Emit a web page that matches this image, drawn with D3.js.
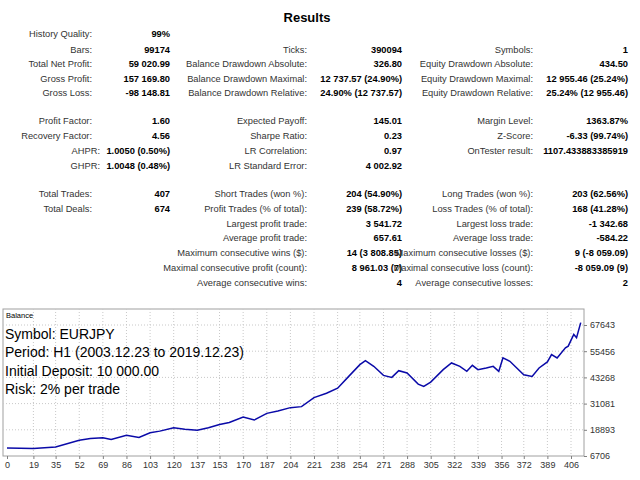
<!DOCTYPE html>
<html><head><meta charset="utf-8">
<script src="https://cdn.jsdelivr.net/npm/d3@7"></script>
<style>body{margin:0;background:#fff}</style>
</head><body>
<svg id="c" width="640" height="480"></svg>
<script>
// report rows: [label, value] per column, per row
var rowsCol1 = [
	['History Quality:', '99%'], ['Bars:', '99174'], ['Total Net Profit:', '59 020.99'],
	['Gross Profit:', '157 169.80'], ['Gross Loss:', '-98 148.81'], null,
	['Profit Factor:', '1.60'], ['Recovery Factor:', '4.56'], ['AHPR:', '1.0050 (0.50%)'],
	['GHPR:', '1.0048 (0.48%)'], null, ['Total Trades:', '407'], ['Total Deals:', '674']];
var rowsCol2 = [
	null, ['Ticks:', '390094'], ['Balance Drawdown Absolute:', '326.80'],
	['Balance Drawdown Maximal:', '12 737.57 (24.90%)'], ['Balance Drawdown Relative:', '24.90% (12 737.57)'], null,
	['Expected Payoff:', '145.01'], ['Sharpe Ratio:', '0.23'], ['LR Correlation:', '0.97'],
	['LR Standard Error:', '4 002.92'], null, ['Short Trades (won %):', '204 (54.90%)'],
	['Profit Trades (% of total):', '239 (58.72%)'], ['Largest profit trade:', '3 541.72'],
	['Average profit trade:', '657.61'], ['Maximum consecutive wins ($):', '14 (3 808.85)'],
	['Maximal consecutive profit (count):', '8 961.03 (7)'], ['Average consecutive wins:', '4']];
var rowsCol3 = [
	null, ['Symbols:', '1'], ['Equity Drawdown Absolute:', '434.50'],
	['Equity Drawdown Maximal:', '12 955.46 (25.24%)'], ['Equity Drawdown Relative:', '25.24% (12 955.46)'], null,
	['Margin Level:', '1363.87%'], ['Z-Score:', '-6.33 (99.74%)'], ['OnTester result:', '1107.433883385919'],
	null, null, ['Long Trades (won %):', '203 (62.56%)'], ['Loss Trades (% of total):', '168 (41.28%)'],
	['Largest loss trade:', '-1 342.68'], ['Average loss trade:', '-584.22'],
	['Maximum consecutive losses ($):', '9 (-8 059.09)'], ['Maximal consecutive loss (count):', '-8 059.09 (9)'],
	['Average consecutive losses:', '2']];
var rowY = [33, 49, 63, 78, 92, 106, 120, 135, 150, 165, 179, 193, 208, 223, 237, 252, 267, 282];

// balance curve (trade index, balance)
var tradeIdx = [0, 19, 35, 52, 60, 69, 75, 86, 95, 103, 110, 120, 128, 137, 145, 153, 160, 170, 178, 187, 195, 204, 212, 221, 230, 238, 246, 254, 258, 264, 271, 277, 282, 288, 296, 300, 305, 314, 320, 326, 331, 335, 339, 345, 350, 354, 357, 362, 372, 378, 383, 389, 392, 396, 402, 404, 408, 410, 413];
var balance = [10456, 10140, 10920, 14050, 14830, 15140, 14360, 16390, 15300, 17490, 18270, 19830, 19200, 18740, 19830, 21390, 22330, 24830, 23420, 26550, 27640, 29200, 29670, 33890, 35920, 38270, 43740, 49200, 51080, 48420, 44200, 43270, 46390, 45300, 40140, 39050, 41080, 46860, 49980, 48420, 46080, 48890, 46860, 47640, 48420, 46080, 52330, 50770, 44520, 43740, 47640, 50450, 53890, 52330, 57020, 57800, 63270, 61700, 68730];
var yTicks = [6706, 18893, 31081, 43268, 55456, 67643];
var xTicks = [0, 19, 35, 52, 69, 86, 103, 120, 137, 153, 170, 187, 204, 221, 238, 254, 271, 288, 305, 322, 339, 356, 372, 389, 406];
var infoLines = ['Symbol: EURJPY', 'Period: H1 (2003.12.23 to 2019.12.23)', 'Initial Deposit: 10 000.00', 'Risk: 2% per trade'];

var svg = d3.select('#c');
var font = '"Liberation Sans", Arial, sans-serif';

svg.append('text').attr('x', 307).attr('y', 22).attr('text-anchor', 'middle')
	.attr('font-family', font).attr('font-size', 13).attr('font-weight', 'bold').text('Results');

function drawCol(rows, labelX, valueX) {
	rows.forEach(function(r, i) {
		if (!r) {return;}
		var lx = (r[0] === 'AHPR:' || r[0] === 'GHPR:') ? 100 : labelX;
		svg.append('text').attr('x', lx).attr('y', rowY[i] + 4).attr('text-anchor', 'end')
			.attr('font-family', font).attr('font-size', 9.3).attr('fill', '#333').text(r[0]);
		svg.append('text').attr('x', valueX).attr('y', rowY[i] + 4).attr('text-anchor', 'end')
			.attr('font-family', font).attr('font-size', 9.3).attr('font-weight', 'bold').attr('fill', '#000').text(r[1]);
	});
}
drawCol(rowsCol1, 92, 170);
drawCol(rowsCol2, 307, 402);
drawCol(rowsCol3, 533, 628);

// chart
var x = d3.scaleLinear().domain([0, 406]).range([7, 571]);
var y = d3.scaleLinear().domain([6706, 67643]).range([456, 325]);
var boxL = 3, boxR = 584, boxT = 309, boxB = 456;

svg.append('rect').attr('x', boxL).attr('y', boxT).attr('width', boxR - boxL).attr('height', boxB - boxT)
	.attr('fill', '#fff').attr('stroke', '#a0a0a0');

var grid = svg.append('g').attr('stroke', '#c8c8c8').attr('stroke-dasharray', '1,2');
grid.selectAll('line.h').data(yTicks.slice(1)).enter().append('line').attr('class', 'h')
	.attr('x1', boxL).attr('x2', boxR).attr('y1', function(d) {return y(d);}).attr('y2', function(d) {return y(d);});
grid.selectAll('line.v').data(xTicks.slice(1)).enter().append('line').attr('class', 'v')
	.attr('y1', boxT).attr('y2', boxB).attr('x1', function(d) {return x(d);}).attr('x2', function(d) {return x(d);});

var yAxis = svg.append('g').attr('transform', 'translate(' + boxR + ',0)')
	.call(d3.axisRight(y).tickValues(yTicks).tickSize(3).tickFormat(d3.format('d')));
var xAxis = svg.append('g').attr('transform', 'translate(0,' + boxB + ')')
	.call(d3.axisBottom(x).tickValues(xTicks).tickSize(3));
[yAxis, xAxis].forEach(function(a) {
	a.select('.domain').remove();
	a.selectAll('line').attr('stroke', '#808080');
	a.selectAll('text').attr('font-family', font).attr('font-size', 9).attr('fill', '#333');
});

svg.append('path').datum(tradeIdx.map(function(t, i) {return [t, balance[i]];}))
	.attr('fill', 'none').attr('stroke', '#0a0aa8').attr('stroke-width', 1.5)
	.attr('d', d3.line().x(function(d) {return x(d[0]);}).y(function(d) {return y(d[1]);}));

svg.append('text').attr('x', 6).attr('y', 318).attr('font-family', font).attr('font-size', 7.5).text('Balance');
svg.selectAll('text.info').data(infoLines).enter().append('text').attr('class', 'info')
	.attr('x', 5).attr('y', function(d, i) {return 339 + i * 18.3;})
	.attr('font-family', font).attr('font-size', 14).attr('fill', '#000')
	.text(function(d) {return d;});
</script>
</body></html>
